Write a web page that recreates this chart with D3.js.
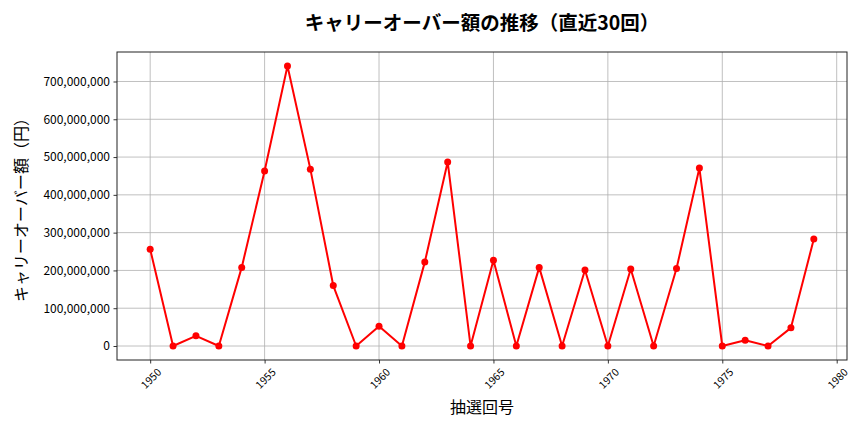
<!DOCTYPE html>
<html><head><meta charset="utf-8">
<script src="https://cdn.jsdelivr.net/npm/d3@7"></script>
<style>body{margin:0;background:#fff;} text{font-family:"Noto Sans CJK JP","Noto Sans",sans-serif;}</style>
</head><body><svg id="c" width="864" height="432"></svg>
<script>
const draws = d3.range(1950, 1980);
const carryover = [256000000, 0, 27000000, 0, 208000000, 463000000, 741000000, 468000000, 160000000, 0,
  52000000, 0, 222000000, 487000000, 0, 227000000, 0, 208000000, 0, 201000000,
  0, 204000000, 0, 205000000, 471000000, 0, 15000000, 0, 48000000, 283000000];
const yTicks = [0, 100000000, 200000000, 300000000, 400000000, 500000000, 600000000, 700000000];
const xTicks = [1950, 1955, 1960, 1965, 1970, 1975, 1980];
const titleText = "キャリーオーバー額の推移（直近30回）";
const xLabel = "抽選回号";
const yLabel = "キャリーオーバー額（円）";

const data = draws.map((d, i) => ({x: d, y: carryover[i]}));
const L = 117, R = 847, T = 52, B = 360;
const svg = d3.select("#c");
const xMin = d3.min(draws), xMax = d3.max(draws), xPad = (xMax - xMin) * 0.05;
const yMax = d3.max(carryover), yPad = yMax * 0.05;
const x = d3.scaleLinear().domain([xMin - xPad, xMax + xPad]).range([L, R]);
const y = d3.scaleLinear().domain([-yPad, yMax + yPad]).range([B, T]);

// grid
svg.append("g").selectAll("line").data(xTicks).join("line")
  .attr("x1", d => x(d)).attr("x2", d => x(d)).attr("y1", T).attr("y2", B)
  .attr("stroke", "#b0b0b0").attr("stroke-width", 0.8);
svg.append("g").selectAll("line").data(yTicks).join("line")
  .attr("y1", d => y(d)).attr("y2", d => y(d)).attr("x1", L).attr("x2", R)
  .attr("stroke", "#b0b0b0").attr("stroke-width", 0.8);

// axes
const fmt = d3.format(",");
const ya = svg.append("g").attr("transform", `translate(${L},0)`)
  .call(d3.axisLeft(y).tickValues(yTicks).tickFormat(fmt).tickSize(3.5).tickPadding(3.5));
ya.select(".domain").remove();
ya.selectAll("text").attr("font-size", 12).attr("fill", "#000").style("font-family", '"Noto Sans CJK JP",sans-serif');
ya.selectAll("line").attr("stroke", "#000").attr("stroke-width", 0.8);

const xa = svg.append("g").attr("transform", `translate(0,${B})`)
  .call(d3.axisBottom(x).tickValues(xTicks).tickFormat(d3.format("d")).tickSize(3.5));
xa.select(".domain").remove();
xa.selectAll("line").attr("stroke", "#000").attr("stroke-width", 0.8);
xa.selectAll("text").attr("font-size", 10.5).attr("fill", "#000")
  .attr("text-anchor", "middle").attr("dy", null).attr("y", 0)
  .attr("transform", "translate(0,18) rotate(-45)")
  .attr("dominant-baseline", "central");

// frame
svg.append("rect").attr("x", L).attr("y", T).attr("width", R - L).attr("height", B - T)
  .attr("fill", "none").attr("stroke", "#222").attr("stroke-width", 1);

// line + markers
svg.append("path").datum(data)
  .attr("d", d3.line().x(d => x(d.x)).y(d => y(d.y)))
  .attr("fill", "none").attr("stroke", "#ff0000").attr("stroke-width", 2).attr("stroke-linejoin", "round");
svg.append("g").selectAll("circle").data(data).join("circle")
  .attr("cx", d => x(d.x)).attr("cy", d => y(d.y)).attr("r", 3.5).attr("fill", "#ff0000");

// labels
svg.append("text").attr("x", (L + R) / 2).attr("y", 30).attr("text-anchor", "middle")
  .attr("font-size", 19.5).attr("font-weight", "bold").text(titleText);
svg.append("text").attr("x", (L + R) / 2).attr("y", 413).attr("text-anchor", "middle")
  .attr("font-size", 16).text(xLabel);
svg.append("text").attr("transform", `translate(27,${(T + B) / 2}) rotate(-90)`).attr("text-anchor", "middle")
  .attr("font-size", 16).text(yLabel);
</script></body></html>
